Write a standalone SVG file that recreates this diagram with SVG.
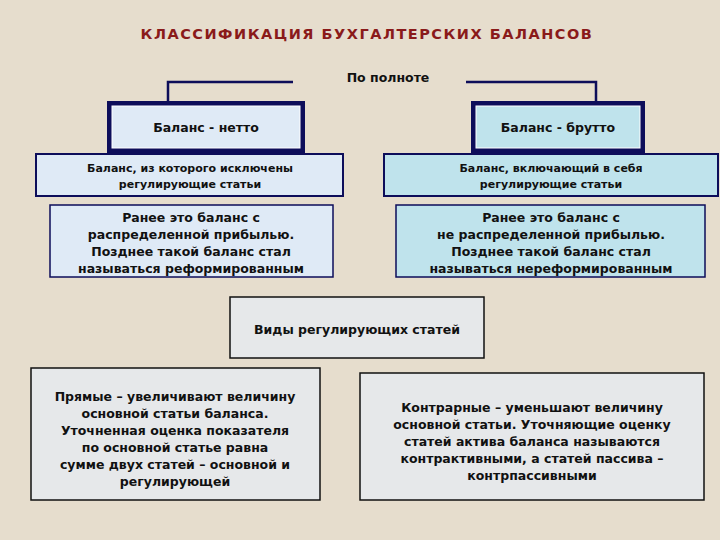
<svg xmlns="http://www.w3.org/2000/svg" width="720" height="540" viewBox="0 0 720 540">
<style>
text{font-family:"DejaVu Sans","Liberation Sans",sans-serif;font-weight:bold;fill:#111;text-anchor:middle}
.s{font-size:11px}.m{font-size:12.5px}
.lb{fill:#dfeaf6;stroke:#0d0d5a;stroke-width:2}
.cy{fill:#bfe3ec;stroke:#0d0d5a;stroke-width:2}
.mb{fill:#e6e8ea;stroke:#111;stroke-width:1.5}
.ln{fill:none;stroke:#0d0d5a;stroke-width:2.5}
</style>
<rect width="720" height="540" fill="#e6ddcd"/>
<text x="367" y="39" style="font-size:14.5px;fill:#8a1a1a;letter-spacing:1.5px">КЛАССИФИКАЦИЯ  БУХГАЛТЕРСКИХ  БАЛАНСОВ</text>
<text x="388" y="82" class="m">По полноте</text>
<g id="connectors">
<path class="ln" d="M293 82 H168 V103"/>
<path class="ln" d="M466 82 H596 V103"/>
</g>
<g id="netto"><rect x="107" y="101" width="198" height="52" fill="#0d0d5a"/><rect x="112" y="106" width="188" height="42" fill="#dfeaf6" stroke="#fff" stroke-width="1"/><text x="206" y="132" class="m">Баланс - нетто</text></g>
<g id="brutto"><rect x="471" y="101" width="174" height="52" fill="#0d0d5a"/><rect x="476" y="106" width="164" height="42" fill="#bfe3ec" stroke="#fff" stroke-width="1"/><text x="558" y="132" class="m">Баланс - брутто</text></g>
<g id="n2"><rect class="lb" x="36" y="154" width="307" height="42"/><text x="190" y="172" class="s">Баланс, из которого исключены</text><text x="190" y="188" class="s">регулирующие статьи</text></g>
<g id="b2"><rect class="cy" x="384" y="154" width="334" height="42"/><text x="551" y="172" class="s">Баланс, включающий в себя</text><text x="551" y="188" class="s">регулирующие статьи</text></g>
<g id="n3"><rect x="50" y="205" width="283" height="72" fill="#dfeaf6" stroke="#0d0d5a" stroke-width="1.5"/><text x="191" y="222" class="m">Ранее это баланс с</text><text x="191" y="239" class="m">распределенной прибылью.</text><text x="191" y="256" class="m">Позднее такой баланс стал</text><text x="191" y="273" class="m">называться реформированным</text></g>
<g id="b3"><rect x="396" y="205" width="309" height="72" fill="#bfe3ec" stroke="#0d0d5a" stroke-width="1.5"/><text x="551" y="222" class="m">Ранее это баланс с</text><text x="551" y="239" class="m">не распределенной прибылью.</text><text x="551" y="256" class="m">Позднее такой баланс стал</text><text x="551" y="273" class="m">называться нереформированным</text></g>
<g id="vidy"><rect class="mb" x="230" y="297" width="254" height="61"/><text x="357" y="334" class="m">Виды регулирующих статей</text></g>
<g id="pryamye"><rect class="mb" x="31" y="368" width="289" height="132"/><text x="175" y="401" class="m">Прямые – увеличивают величину</text><text x="175" y="418" class="m">основной статьи баланса.</text><text x="175" y="435" class="m">Уточненная оценка показателя</text><text x="175" y="452" class="m">по основной статье равна</text><text x="175" y="469" class="m">сумме двух статей – основной и</text><text x="175" y="486" class="m">регулирующей</text></g>
<g id="kontr"><rect class="mb" x="360" y="373" width="344" height="127"/><text x="532" y="412" class="m">Контрарные – уменьшают величину</text><text x="532" y="429" class="m">основной статьи. Уточняющие оценку</text><text x="532" y="446" class="m">статей актива баланса называются</text><text x="532" y="463" class="m">контрактивными, а статей пассива –</text><text x="532" y="480" class="m">контрпассивными</text></g>
</svg>
